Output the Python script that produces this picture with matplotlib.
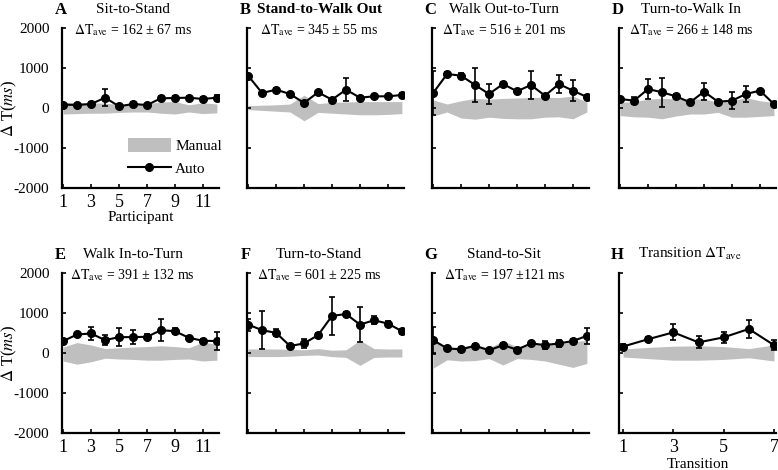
"""
Delta T between manual and automatic transition detection, per participant,
for each TUG transition (A-G) and the transition averages (H).
"""

import matplotlib
matplotlib.use("Agg")
import matplotlib.pyplot as plt
from matplotlib.patches import Patch
from matplotlib.lines import Line2D

# ---- data (ms) ----
letters = ["A", "B", "C", "D", "E", "F", "G", "H"]
titles = ["Sit-to-Stand", "Stand-to-Walk Out", "Walk Out-to-Turn", "Turn-to-Walk In",
          "Walk In-to-Turn", "Turn-to-Stand", "Stand-to-Sit", "Transition"]
ave_text = ["162 ± 67 ms", "345 ± 55 ms", "516 ± 201 ms", "266 ± 148 ms",
            "391 ± 132 ms", "601 ± 225 ms", "197 ±121 ms", None]

participants = list(range(1, 13))
transitions = list(range(1, 8))

auto_mean = [
    [85, 75, 100, 258, 42, 100, 75, 242, 250, 258, 225, 258],
    [808, 375, 458, 350, 125, 392, 208, 458, 258, 292, 292, 325],
    [375, 850, 808, 575, 350, 600, 417, 575, 308, 600, 433, 275],
    [225, 183, 475, 392, 292, 142, 408, 158, 183, 350, 433, 100],
    [298, 463, 488, 322, 397, 397, 405, 570, 545, 380, 306, 298],
    [711, 570, 504, 174, 240, 446, 926, 975, 711, 818, 736, 545],
    [322, 116, 91, 182, 66, 198, 83, 240, 198, 240, 298, 430],
    [162, 345, 516, 266, 391, 601, 197],
]
auto_err = [
    [40, 30, 40, 220, 30, 40, 30, 50, 60, 50, 40, 70],
    [40, 40, 40, 30, 50, 40, 30, 290, 40, 30, 30, 40],
    [540, 40, 60, 430, 250, 40, 40, 360, 40, 230, 270, 50],
    [40, 80, 240, 360, 50, 40, 210, 40, 220, 210, 40, 40],
    [40, 40, 165, 125, 225, 180, 60, 270, 80, 40, 40, 215],
    [150, 480, 90, 50, 120, 60, 470, 60, 440, 100, 60, 60],
    [340, 40, 60, 40, 40, 40, 40, 40, 100, 80, 40, 205],
    [67, 55, 201, 148, 132, 225, 121],
]
manual_hi = [
    [140, 140, 130, 120, 90, 100, 110, 150, 160, 80, 130, 100],
    [60, 70, 80, 100, 320, 110, 140, 150, 160, 160, 160, 160],
    [200, 100, 180, 240, 220, 240, 250, 260, 270, 260, 300, 150],
    [140, 160, 220, 240, 230, 230, 220, 150, 180, 260, 180, 140],
    [150, 260, 200, 110, 130, 150, 160, 180, 160, 130, 270, 220],
    [100, 100, 100, 90, 80, 110, 70, 80, 320, 110, 100, 100],
    [300, 130, 150, 200, 130, 300, 160, 220, 220, 220, 280, 320],
    [100, 140, 170, 180, 160, 110, 200],
]
manual_lo = [
    [-150, -140, -130, -130, -110, -100, -100, -130, -150, -100, -140, -120],
    [-40, -60, -80, -100, -320, -110, -130, -150, -170, -170, -160, -140],
    [-200, -100, -250, -280, -230, -260, -270, -270, -230, -220, -270, -100],
    [-190, -220, -230, -270, -200, -150, -150, -110, -230, -230, -210, -190],
    [-200, -280, -220, -130, -150, -160, -180, -180, -160, -150, -200, -180],
    [-90, -90, -90, -80, -60, -50, -90, -110, -310, -110, -100, -100],
    [-380, -170, -200, -190, -140, -300, -140, -160, -200, -280, -360, -260],
    [-100, -140, -180, -180, -160, -120, -200],
]

GRAY = "#bfbfbf"

plt.rcParams.update({
    "font.family": "serif",
    "font.serif": ["Liberation Serif", "DejaVu Serif"],
    "mathtext.fontset": "stix",
    "axes.unicode_minus": False,
    "axes.spines.top": False,
    "axes.spines.right": False,
    "axes.linewidth": 1.6,
})

fig = plt.figure(figsize=(7.78, 4.70), dpi=100)
W, H = 778, 470
col_left = [62, 247, 432, 619]
row_bottom = [188, 433]
ax_w, ax_h = 157, 160

for i in range(8):
    r, c = divmod(i, 4)
    ax = fig.add_axes([col_left[c] / W, 1 - row_bottom[r] / H, ax_w / W, ax_h / H])
    x = transitions if i == 7 else participants

    ax.fill_between(x, manual_lo[i], manual_hi[i], color=GRAY, lw=0, zorder=1)
    ax.errorbar(x, auto_mean[i], yerr=auto_err[i], color="black", lw=1.5,
                marker="o", ms=5.5, elinewidth=1.2, capsize=2.2, capthick=1.2, zorder=3)

    ax.set_ylim(-2000, 2000)
    ax.set_yticks([-2000, -1000, 0, 1000, 2000])
    if i == 7:
        ax.set_xlim(0.84, 7.08)
        ax.set_xticks([1, 3, 5, 7])
    else:
        ax.set_xlim(0.92, 12.15)
        ax.set_xticks([1, 3, 5, 7, 9, 11])
    ax.tick_params(direction="in", length=3, width=1.2)
    ax.tick_params(axis="y", labelsize=11, pad=9)
    ax.tick_params(axis="x", labelsize=13, pad=4)

    if c == 0:
        ax.set_ylabel(r"$\Delta$ T($ms$)", fontsize=12)
        ax.yaxis.set_label_coords(-0.275, 0.5)
    else:
        ax.set_yticklabels([])
    if i not in (0, 4, 7):
        ax.set_xticklabels([])

    ax.text(-0.01, 1.115, letters[i], transform=ax.transAxes, ha="center", va="center",
            fontsize=12, fontweight="bold")
    if i == 7:
        ax.text(0.45, 1.12, r"Transition $\Delta\mathrm{T}_{\mathrm{ave}}$",
                transform=ax.transAxes, ha="center", va="center", fontsize=11)
    else:
        ax.text(0.45 if i in (0, 4) else 0.46, 1.115, titles[i], transform=ax.transAxes,
                ha="center", va="center", fontsize=11,
                fontweight="bold" if i == 1 else "normal")
        ax.text(0.45 if i in (0, 4) else 0.46, 0.985,
                r"$\Delta\mathrm{T}_{\mathrm{ave}}$ = " + ave_text[i],
                transform=ax.transAxes, ha="center", va="center", fontsize=10)

    if i == 0:
        ax.set_xlabel("Participant", fontsize=11, labelpad=0)
        handles = [Patch(color=GRAY, lw=0),
                   Line2D([], [], color="black", lw=1.5, marker="o", ms=5.5)]
        ax.legend(handles, ["Manual", "Auto"], loc="upper left",
                  bbox_to_anchor=(0.42, 0.31), frameon=False, fontsize=11,
                  handlelength=2.8, handleheight=1.0, handletextpad=0.3,
                  borderpad=0, borderaxespad=0, labelspacing=0.5)
    if i == 7:
        ax.set_xlabel("Transition", fontsize=11, labelpad=2)

fig.savefig("out.png", dpi=100)
